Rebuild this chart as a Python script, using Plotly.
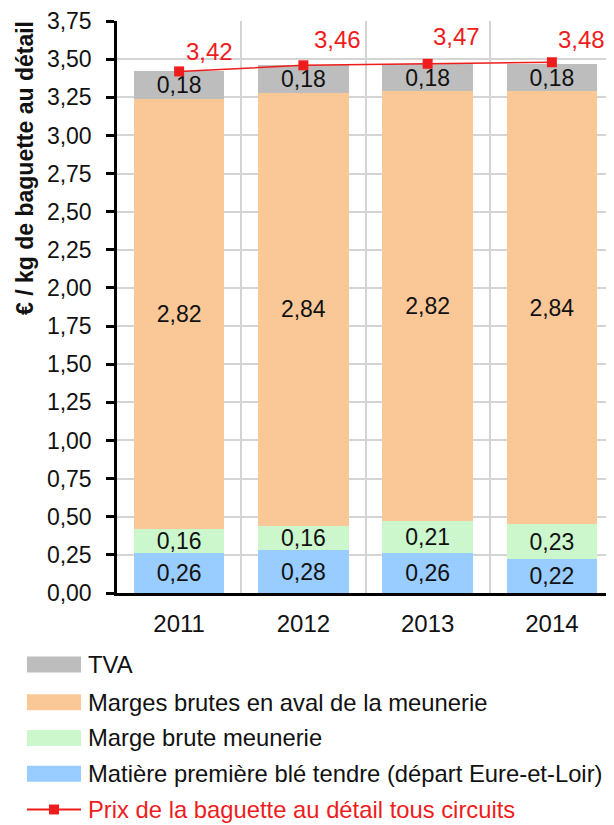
import plotly.graph_objects as go

years = ["2011", "2012", "2013", "2014"]
ble = [0.26, 0.28, 0.26, 0.22]
meunerie = [0.16, 0.16, 0.21, 0.23]
aval = [2.82, 2.84, 2.82, 2.84]
tva = [0.18, 0.18, 0.18, 0.18]
prix = [3.42, 3.46, 3.47, 3.48]

names = {
    "tva": "TVA",
    "aval": "Marges brutes en aval de la meunerie",
    "meun": "Marge brute meunerie",
    "ble": "Matière première blé tendre (départ Eure-et-Loir)",
    "prix": "Prix de la baguette au détail tous circuits",
}
y_ticks = [i * 0.25 for i in range(16)]

FONT = "Liberation Sans, Arial, sans-serif"
colors = {"ble": "#99ccff", "meun": "#ccf7cc", "aval": "#fac897", "tva": "#bdbdbd", "prix": "#ee1c1c"}

# label offsets (pixels) of the price labels, as placed in the original chart
label_dx = [30, 34, 29, 30]
label_dy = [20, 26, 27, 23]

# the page is rendered with an 8px body margin: compensate
OFF = 8
W, H = 614 - OFF, 825 - OFF

fig = go.Figure()
for key, vals in [("ble", ble), ("meun", meunerie), ("aval", aval), ("tva", tva)]:
    fig.add_trace(go.Bar(
        x=years, y=vals, name=names[key], marker=dict(color=colors[key], line=dict(width=0)),
        texttemplate="%{y:.2f}", textposition="inside", insidetextanchor="middle",
        textangle=0, textfont=dict(family=FONT, size=23, color="#111111"),
        showlegend=False,
    ))

fig.add_trace(go.Scatter(
    x=years, y=prix, mode="lines+markers", name=names["prix"],
    line=dict(color=colors["prix"], width=1.5),
    marker=dict(symbol="square", size=10, color=colors["prix"]),
    showlegend=False,
))

for i, (xv, yv) in enumerate(zip(years, prix)):
    fig.add_annotation(x=i, y=yv, xref="x", yref="y", text=f"{yv:.2f}".replace(".", ","),
                       showarrow=False, xanchor="center", yanchor="middle",
                       xshift=label_dx[i], yshift=label_dy[i],
                       font=dict(family=FONT, size=24, color=colors["prix"]))

# plot area in reference pixels
plot_left, plot_right, plot_top, plot_bottom = 117, 614, 17, 593
plot_w, plot_h = plot_right - plot_left, plot_bottom - plot_top

def px_to_paper(xp, yp):
    return (xp - plot_left) / plot_w, (plot_bottom - yp) / plot_h

# y-axis title
tx, ty = px_to_paper(25, 165)
fig.add_annotation(xref="paper", yref="paper", x=tx, y=ty, text="<b>€ / kg de baguette au détail</b>",
                   textangle=-90, showarrow=False, xanchor="center", yanchor="middle",
                   font=dict(family=FONT, size=23, color="#111111"))

# manual legend
legend_items = [("tva", 665), ("aval", 703), ("meun", 739), ("ble", 775), ("prix", 811)]
for key, yc in legend_items:
    x0, yb = px_to_paper(27, yc + 8)
    x1, yt = px_to_paper(81, yc - 8)
    if key == "prix":
        _, ym = px_to_paper(0, yc)
        fig.add_shape(type="line", xref="paper", yref="paper", x0=x0, x1=x1, y0=ym, y1=ym,
                      line=dict(color=colors["prix"], width=2))
        xm0, ys0 = px_to_paper(49, yc + 5)
        xm1, ys1 = px_to_paper(59, yc - 5)
        fig.add_shape(type="rect", xref="paper", yref="paper", x0=xm0, x1=xm1, y0=ys0, y1=ys1,
                      line=dict(width=0), fillcolor=colors["prix"])
        tcol = colors["prix"]
    else:
        fig.add_shape(type="rect", xref="paper", yref="paper", x0=x0, x1=x1, y0=yb, y1=yt,
                      line=dict(width=0), fillcolor=colors[key])
        tcol = "#111111"
    xt, yt2 = px_to_paper(86, yc)
    fig.add_annotation(xref="paper", yref="paper", x=xt, y=yt2, text=names[key], showarrow=False,
                       xanchor="left", yanchor="middle", font=dict(family=FONT, size=23.8, color=tcol))

fig.update_layout(
    width=W, height=H, barmode="stack", bargap=0.27,
    margin=dict(l=plot_left - OFF, r=W - (plot_right - OFF), t=plot_top - OFF, b=H - (plot_bottom - OFF)),
    paper_bgcolor="white", plot_bgcolor="white",
    separators=", ", uniformtext=dict(minsize=23, mode="show"),
    font=dict(family=FONT, size=23, color="#111111"),
    xaxis=dict(type="category", tickson="boundaries", showgrid=True, gridcolor="#d4d4d4", gridwidth=1.5,
               showline=True, linecolor="black", linewidth=2.5, ticks="", ticklabelstandoff=7,
               tickfont=dict(size=24), range=[-0.5, 3.5]),
    yaxis=dict(range=[0, 3.7505], tickvals=y_ticks, tickformat=".2f", showgrid=True, gridcolor="#d4d4d4",
               gridwidth=1.5, showline=True, linecolor="black", linewidth=2.5, ticks="outside",
               ticklen=8, tickwidth=2.5, tickcolor="black", ticklabelstandoff=10, zeroline=False,
               ticklabeloverflow="allow", tickfont=dict(size=23)),
    showlegend=False,
)

fig.write_html("out.html")
